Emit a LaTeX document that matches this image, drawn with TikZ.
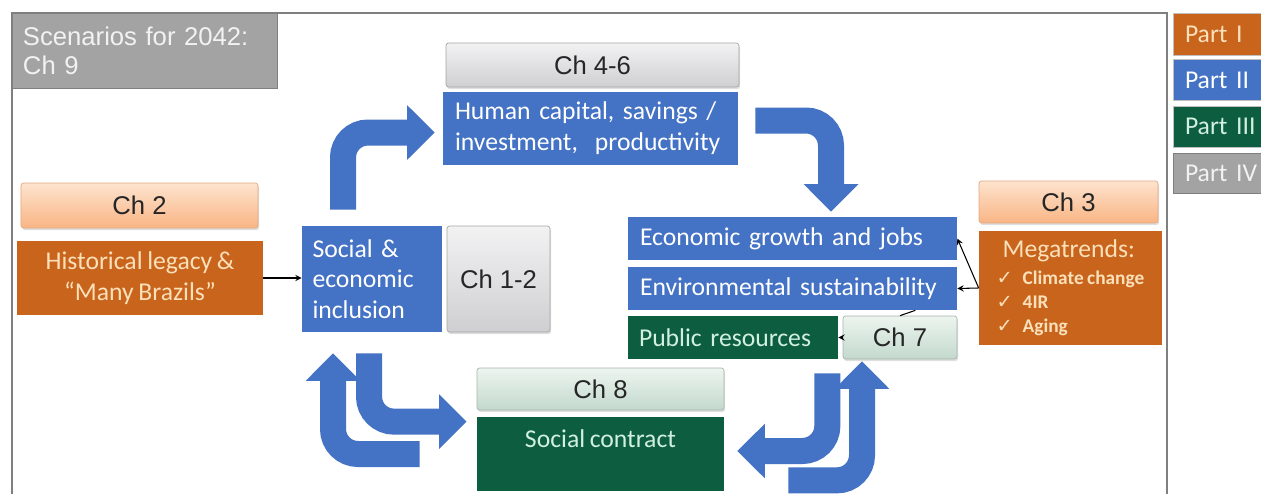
\documentclass[tikz,border=0pt]{standalone}
\usepackage{fontspec}
\setmainfont{Carlito}[WordSpace=0.8]
\newfontfamily\chfont{Liberation Sans}
\newfontfamily\tickfont{DejaVu Sans}
\usepackage{tikz}
\usetikzlibrary{arrows.meta,shadows}

\definecolor{pblue}{HTML}{4472C4}
\definecolor{porange}{HTML}{C8641C}
\definecolor{pgreen}{HTML}{0D5E40}
\definecolor{pgray}{HTML}{A3A3A3}
\definecolor{framegray}{HTML}{7F7F7F}
\definecolor{orangetext}{HTML}{FBE0BA}
\definecolor{greentext}{HTML}{D2F0DF}
\definecolor{grayhi}{HTML}{F2F2F3}
\definecolor{graylo}{HTML}{CFCFD2}
\definecolor{orangehi}{HTML}{FDE3CE}
\definecolor{orangelo}{HTML}{F9B584}
\definecolor{greenhi}{HTML}{EDF5EF}
\definecolor{greenlo}{HTML}{C3D9CD}

\tikzset{
    fillbox/.style={rectangle,inner sep=0pt,fill=#1,font=\fontsize{14.6}{17.5}\selectfont},
    chbox/.style={rectangle,rounded corners=1.5pt,inner sep=0pt,text=black!85,font=\chfont\fontsize{14.6}{17.5}\selectfont,drop shadow={opacity=0.25,shadow xshift=0.6pt,shadow yshift=-1.2pt}},
    chgray/.style={chbox,draw=gray!70,top color=grayhi,bottom color=graylo},
    chorange/.style={chbox,draw=orangelo!80!gray,top color=orangehi,bottom color=orangelo},
    chgreen/.style={chbox,draw=greenlo!60!gray,top color=greenhi,bottom color=greenlo},
    partbox/.style={fillbox=#1,draw=gray!50,minimum width=2.6cm,text width=2.12cm,align=left},
    bigarrow/.style={draw=pblue,line width=0.52cm,rounded corners=0.5cm,-{Triangle[width=1.06cm,length=0.55cm]}}
}

\begin{document}
\begin{tikzpicture}
        \clip (0,0) rectangle (25.22,9.86);
        \fill[white] (0,0) rectangle (25.22,9.86);
        % Outer frame and title
        \draw[framegray,line width=1.1pt] (0.24,-0.2) -- (0.24,9.60) -- (23.34,9.60) -- (23.34,-0.2);
        \node[fillbox=pgray,draw=framegray,text=grayhi,font=\chfont\fontsize{14.6}{16.5}\selectfont,minimum width=5.30cm,minimum height=1.50cm,text width=4.86cm,align=left] (scen) at (2.89,8.85) {Scenarios for 2042:\\Ch 9};
        % Legend
        \node[partbox=porange,minimum height=0.84cm,text=orangetext] (part1) at (24.76,9.18) {Part I};
        \node[partbox=pblue,minimum height=0.82cm,text=white] (part2) at (24.76,8.26) {Part II};
        \node[partbox=pgreen,minimum height=0.82cm,text=greentext] (part3) at (24.76,7.33) {Part III};
        \node[partbox=pgray,draw=framegray,minimum height=0.80cm,text=grayhi] (part4) at (24.76,6.40) {Part IV};
        % Chapter labels
        \node[chgray,minimum width=5.86cm,minimum height=0.88cm] (ch46) at (11.85,8.56) {Ch 4-6};
        \node[chorange,minimum width=4.74cm,minimum height=0.90cm] (ch2) at (2.79,5.75) {Ch 2};
        \node[chgray,minimum width=2.06cm,minimum height=2.12cm] (ch12) at (9.97,4.28) {Ch 1-2};
        \node[chorange,minimum width=3.58cm,minimum height=0.84cm] (ch3) at (21.37,5.82) {Ch 3};
        \node[chgreen,minimum width=2.28cm,minimum height=0.86cm] (ch7) at (18.00,3.11) {Ch 7};
        \node[chgreen,minimum width=4.94cm,minimum height=0.84cm] (ch8) at (12.01,2.08) {Ch 8};
        % Topic boxes
        \node[fillbox=pblue,text=white,minimum width=5.90cm,minimum height=1.46cm,text width=5.42cm,align=left] (hum) at (11.81,7.29) {Human capital, savings /\\investment,\ \ productivity};
        \node[fillbox=porange,text=orangetext,minimum width=4.92cm,minimum height=1.48cm,align=center] (hist) at (2.80,4.30) {Historical legacy \&\\``Many Brazils''};
        \node[fillbox=pblue,text=white,minimum width=2.80cm,minimum height=2.12cm,text width=2.38cm,align=left] (soc) at (7.44,4.28) {Social \&\\economic\\inclusion};
        \node[fillbox=pblue,text=white,minimum width=6.58cm,minimum height=0.86cm,text width=6.10cm,align=left] (eco) at (15.85,5.09) {Economic growth and jobs};
        \node[fillbox=pblue,text=white,minimum width=6.58cm,minimum height=0.86cm,text width=6.10cm,align=left] (env) at (15.85,4.09) {Environmental sustainability};
        \node[fillbox=pgreen,text=greentext,minimum width=4.20cm,minimum height=0.86cm,text width=3.76cm,align=left] (pub) at (14.66,3.11) {Public resources};
        \node[fillbox=pgreen,text=greentext,minimum width=4.94cm,minimum height=1.48cm,align=center] (con) at (12.01,0.78) {Social contract\\\mbox{}};
        \node[fillbox=porange,text=orangetext,font=\bfseries\fontsize{11}{13.6}\selectfont,minimum width=3.66cm,minimum height=2.28cm,align=left] (mega) at (21.41,4.10) {{\mdseries\fontsize{14.6}{17.5}\selectfont\hspace*{0.12cm}Megatrends:}\\[1.7pt]\makebox[0.52cm][l]{\tickfont\mdseries ✓}Climate change\\\makebox[0.52cm][l]{\tickfont\mdseries ✓}4IR\\\makebox[0.52cm][l]{\tickfont\mdseries ✓}Aging};
        % Thin links
        \draw[->,>=stealth,semithick] (hist.east) -- (hist.east -| soc.west);
        \draw[->,>=stealth,semithick] (mega.west) -- (eco.east);
        \draw[->,>=stealth,semithick] (mega.west) -- (env.east);
        \draw[->,>=stealth,semithick] (ch7.west) -- (pub.east);
        \draw[semithick] (ch7.north) -- ([xshift=-0.84cm]env.south east);
        % Block arrows
        \draw[bigarrow] ([xshift=-0.58cm,yshift=0.32cm]soc.north) |- ([xshift=-0.16cm,yshift=-0.08cm]hum.west);
        \draw[bigarrow] ([xshift=0.34cm,yshift=0.16cm]hum.east) -| ([xshift=0.77cm,yshift=0.1cm]eco.north);
        \draw[bigarrow] ([xshift=-1.14cm]con.west) -| ([xshift=-0.78cm,yshift=-0.42cm]soc.south);
        \draw[bigarrow] ([xshift=-0.06cm,yshift=-0.42cm]soc.south) |- ([xshift=-0.2cm,yshift=-0.1cm]con.north west);
        \draw[bigarrow] ([xshift=-0.22cm,yshift=-0.28cm]pub.south east) |- ([xshift=0.26cm,yshift=0.06cm]con.east);
        \draw[bigarrow] ([xshift=1.28cm,yshift=0.22cm]con.south east) -| ([xshift=-0.76cm,yshift=-0.04cm]ch7.south);
\end{tikzpicture}
\end{document}
